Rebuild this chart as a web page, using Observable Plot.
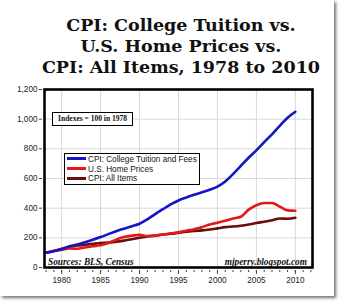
<!DOCTYPE html>
<html>
<head>
<meta charset="utf-8">
<script src="https://cdn.jsdelivr.net/npm/d3@7"></script>
<script src="https://cdn.jsdelivr.net/npm/@observablehq/plot@0.6"></script>
<style>
  html, body { margin: 0; padding: 0; background: #fff; }
  #wrap { position: relative; width: 342px; height: 304px; overflow: hidden; }
  #card { position: absolute; left: 0; top: 0; width: 334px; height: 296px; background: #fff;
          box-shadow: 2px 2px 3px rgba(0,0,0,0.55); }
  .title { position: absolute; left: 0; width: 362px; text-align: center;
           font-family: "DejaVu Serif", serif; font-weight: bold; font-size: 17.5px; color: #111; line-height: 20px; white-space: nowrap; }
  #chart { position: absolute; left: 0; top: 82px; }
  .note { position: absolute; font-family: "Liberation Serif", serif; font-weight: bold; color: #111; white-space: nowrap; }
  #idx { left: 52px; top: 112px; width: 79px; height: 12px; border: 1.5px solid #000; background: #fff;
         font-size: 7.5px; line-height: 12px; text-align: center; }
  #legend { position: absolute; left: 64px; top: 153px; width: 134px; height: 30px; border: 1.5px solid #000; background: #fff;
            font-family: "Liberation Sans", Arial, sans-serif; font-size: 8.2px; color: #111; }
  .row { position: absolute; left: 2px; height: 10px; line-height: 10px; white-space: nowrap; }
  .sw { display: inline-block; width: 19px; height: 3px; vertical-align: middle; margin-right: 2px; position: relative; top: -1px; }
  .src { font-style: italic; font-size: 9.3px; top: 257px; }
</style>
</head>
<body>
<div id="wrap">
  <div id="card"></div>
  <div class="title" style="top:15px">CPI: College Tuition vs.</div>
  <div class="title" style="top:36px">U.S. Home Prices vs.</div>
  <div class="title" style="top:57px">CPI: All Items, 1978 to 2010</div>
  <div id="chart"></div>
  <div class="note" id="idx">Indexes = 100 in 1978</div>
  <div id="legend"></div>
  <div class="note src" style="left:48px">Sources: BLS, Census</div>
  <div class="note src" style="right:35px">mjperry.blogspot.com</div>
</div>
<script>
const years = d3.range(1978, 2011);
const tuition = [100,110,121,143,155,170,187,205,225,245,262,278,295,325,360,393,425,452,472,490,507,524,545,580,630,685,740,790,845,898,955,1010,1050];
const homePrices = [100,113,120,128,126,135,143,150,165,188,205,215,220,212,215,222,230,237,248,258,272,290,302,315,330,342,390,420,435,435,410,385,383];
const cpiAll = [100,111,126,139,148,153,159,165,168,174,181,190,200,209,215,222,227,234,241,246,250,256,264,272,276,282,290,300,309,318,330,329,335];

const seriesNames = ["CPI: College Tuition and Fees", "U.S. Home Prices", "CPI: All Items"];
const seriesColors = ["#1414c8", "#e01a1a", "#6b0d0d"];
const seriesValues = [tuition, homePrices, cpiAll];

const yTicks = [0, 200, 400, 600, 800, 1000, 1200];
const xLabelTicks = [1980, 1985, 1990, 1995, 2000, 2005, 2010];
const xMinorTicks = d3.range(1978, 2013);

const rows = [];
seriesNames.forEach((name, i) => {
  years.forEach((yr, j) => rows.push({series: name, year: yr, value: seriesValues[i][j]}));
});

const drawOrder = [2, 1, 0];

const chart = Plot.plot({
  width: 342,
  height: 210,
  marginLeft: 44,
  marginRight: 30,
  marginTop: 7,
  marginBottom: 25,
  x: {domain: [1977.8, 2012.2], label: null},
  y: {domain: [0, 1200], label: null},
  style: {fontFamily: "'Liberation Sans', Arial, sans-serif", fontSize: "8.2px", color: "#222", background: "transparent", overflow: "visible"},
  marks: [
    Plot.gridX(xLabelTicks, {stroke: "#d8d8d8", strokeOpacity: 1}),
    Plot.gridY(yTicks.slice(1, -1), {stroke: "#d8d8d8", strokeOpacity: 1}),
    Plot.axisY(yTicks, {tickSize: 3, dx: -2, tickPadding: 2, tickFormat: d3.format(","), stroke: "#444"}),
    Plot.axisX(xMinorTicks, {tickSize: 2, dy: 3, text: null, stroke: "#444"}),
    Plot.axisX(xLabelTicks, {tickSize: 4, dy: 3, tickPadding: 3, tickFormat: "d", stroke: "#444"}),
    ...drawOrder.map(i => Plot.line(rows.filter(d => d.series === seriesNames[i]), {
      x: "year", y: "value", stroke: seriesColors[i], strokeWidth: 2.6, curve: "monotone-x"
    })),
    Plot.frame({stroke: "#000", strokeWidth: 2.6})
  ]
});
document.getElementById("chart").appendChild(chart);

const legend = document.getElementById("legend");
seriesNames.forEach((name, i) => {
  const r = document.createElement("div");
  r.className = "row";
  r.style.top = (1 + i * 9.6) + "px";
  r.innerHTML = `<span class="sw" style="background:${seriesColors[i]}"></span>${name}`;
  legend.appendChild(r);
});
</script>
</body>
</html>
